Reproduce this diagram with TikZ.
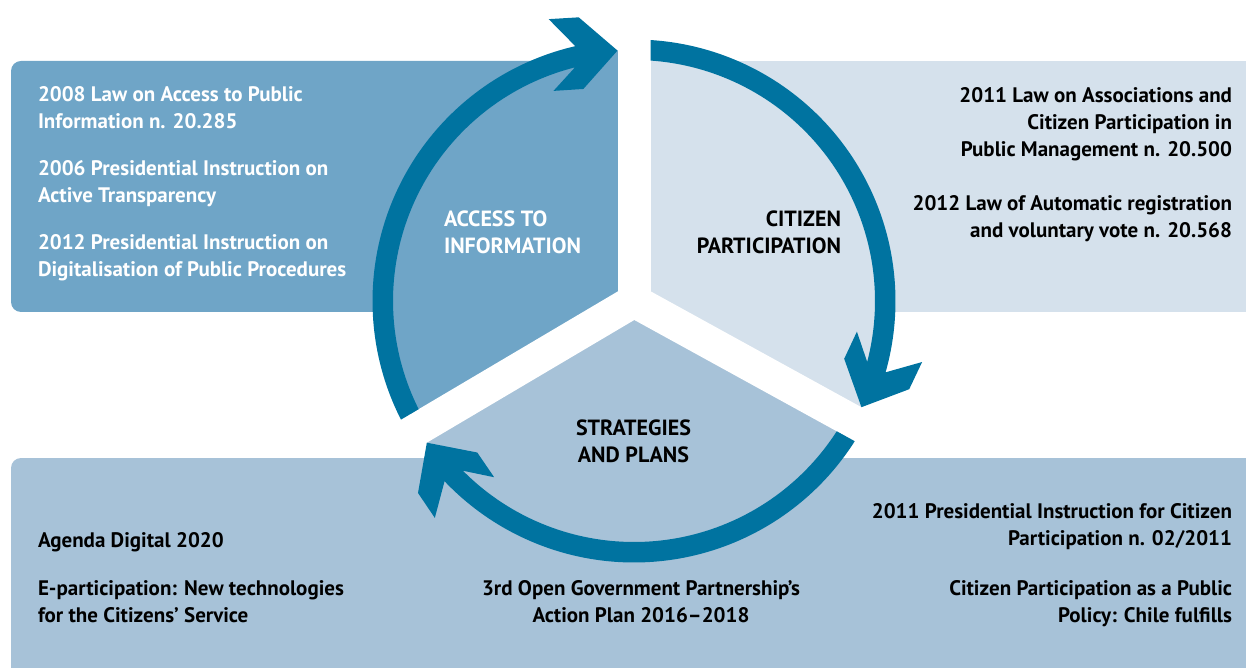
\documentclass[tikz,border=0pt]{standalone}
\usepackage{fontspec}
\setmainfont{PT Sans}
\usepackage{tikz}

\definecolor{ringColor}{RGB}{0,115,160}
\definecolor{accessColor}{RGB}{111,165,199}
\definecolor{citizenColor}{RGB}{213,225,236}
\definecolor{strategyColor}{RGB}{167,194,216}

\tikzset{
  boxtext/.style={font=\fontsize{21}{27}\selectfont\bfseries, inner sep=0pt, outer sep=0pt},
  pillar/.style={boxtext, font=\fontsize{22}{27}\selectfont\bfseries},
  gapline/.style={draw=white, line width=33pt}
}

% arrow on the ring, clockwise from the gap at #1 to the gap at #2
\newcommand{\cyclearrow}[2]{%
  \pgfmathsetmacro{\tailout}{#1-3.62}
  \pgfmathsetmacro{\tailin}{#1-3.93}
  \pgfmathsetmacro{\arrtip}{#2+3.77}
  \fill[ringColor] (\tailout:261.5) arc[start angle=\tailout, end angle=\arrtip+9.2, radius=261.5]
    -- (\arrtip+13.07:294.5) -- (\arrtip+7.26:289) -- (\arrtip:251)
    -- (\arrtip+9.66:218) -- (\arrtip+17.2:225)
    -- (\arrtip+10.4:241) arc[start angle=\arrtip+10.4, end angle=\tailin, radius=241] -- cycle;
}

\begin{document}
\begin{tikzpicture}[x=1pt,y=1pt]
\path[use as bounding box] (0,0) rectangle (1246,667);
\begin{scope}
\clip (0,0) rectangle (1246,667);
\fill[accessColor,rounded corners=10pt] (11,355) rectangle (660,606);
\fill[citizenColor] (634,355) rectangle (1260,606);
\fill[strategyColor,rounded corners=10pt] (11,-20) rectangle (1260,209);
\end{scope}

\begin{scope}[shift={(634,366)}]
\fill[accessColor] (0,0) -- (90:251) arc[start angle=90, end angle=210.6, radius=251] -- cycle;
\fill[citizenColor] (0,0) -- (-28.8:251) arc[start angle=-28.8, end angle=90, radius=251] -- cycle;
\fill[strategyColor] (0,0) -- (210.6:251) arc[start angle=210.6, end angle=331.2, radius=251] -- cycle;
\foreach \g in {90,210.6,331.2}
  \draw[gapline] (0,0) -- (\g:262);
\cyclearrow{210.6}{90}
\cyclearrow{90}{-28.8}
\cyclearrow{-28.8}{-149.4}
\end{scope}

% access to information
\node[boxtext,text=white,anchor=base west,align=left] (law08) at (38,538) {2008 Law on Access to Public\\Information n. 20.285};
\node[boxtext,text=white,anchor=base west,align=left] (instr06) at (38,464) {2006 Presidential Instruction on\\Active Transparency};
\node[boxtext,text=white,anchor=base west,align=left] (instr12) at (38,390) {2012 Presidential Instruction on\\Digitalisation of Public Procedures};
\node[pillar,text=white,anchor=base west,align=left] (access) at (444,413) {ACCESS TO\\INFORMATION};

% citizen participation
\node[boxtext,anchor=base east,align=right] (law11) at (1232,510) {2011 Law on Associations and\\Citizen Participation in\\Public Management n. 20.500};
\node[boxtext,anchor=base east,align=right] (law12) at (1232,429) {2012 Law of Automatic registration\\and voluntary vote n. 20.568};
\node[pillar,anchor=base east,align=right] (citizen) at (841,413) {CITIZEN\\PARTICIPATION};

% strategies and plans
\node[pillar,anchor=base,align=center] (strategies) at (633.5,205) {STRATEGIES\\AND PLANS};
\node[boxtext,anchor=base west,align=left] (agenda) at (38,120) {Agenda Digital 2020};
\node[boxtext,anchor=base west,align=left] (eparticip) at (38,45) {E-participation: New technologies\\for the Citizens’ Service};
\node[boxtext,anchor=base,align=center] (ogpplan) at (641,45) {3rd Open Government Partnership’s\\Action Plan 2016–2018};
\node[boxtext,anchor=base east,align=right] (instr11) at (1232,122) {2011 Presidential Instruction for Citizen\\Participation n. 02/2011};
\node[boxtext,anchor=base east,align=right] (chilefulfills) at (1232,45) {Citizen Participation as a Public\\Policy: Chile fulfills};
\end{tikzpicture}
\end{document}
